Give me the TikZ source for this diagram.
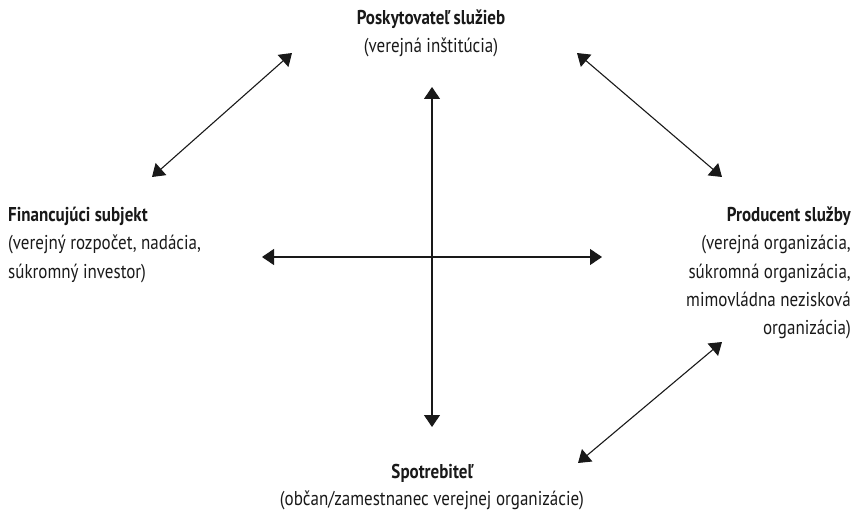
\documentclass[tikz,border=0pt]{standalone}
\usepackage{fontspec}
\setmainfont{PT Sans}[FakeStretch=0.85]
\usetikzlibrary{arrows.meta}
\tikzset{
  txt/.style={inner sep=0pt, font=\fontsize{20}{24}\selectfont, text=black!90},
  hd/.style={txt, font=\fontsize{20}{24}\selectfont\bfseries},
  link/.style={line width=1.1pt, draw=black!90,
    {Triangle[length=12pt,width=16pt]}-{Triangle[length=12pt,width=16pt]}},
}
\begin{document}
\begin{tikzpicture}[x=1pt,y=-1pt]
\useasboundingbox (0,0) rectangle (862,513);
% text blocks
\node[hd, anchor=base] (p1) at (431,25) {Poskytovateľ služieb};
\node[txt, anchor=base] (p2) at (431,53) {(verejná inštitúcia)};
\node[hd, anchor=base west] (f1) at (8,222) {Financujúci subjekt};
\node[txt, anchor=base west] (f2) at (8,250) {(verejný rozpočet, nadácia,};
\node[txt, anchor=base west] (f3) at (8,278) {súkromný investor)};
\node[hd, anchor=base east] (r1) at (851,222) {Producent služby};
\node[txt, anchor=base east] (r2) at (851,250) {(verejná organizácia,};
\node[txt, anchor=base east] (r3) at (851,278) {súkromná organizácia,};
\node[txt, anchor=base east] (r4) at (851,306) {mimovládna nezisková};
\node[txt, anchor=base east] (r5) at (851,334) {organizácia)};
\node[hd, anchor=base] (s1) at (432,478) {Spotrebiteľ};
\node[txt, anchor=base] (s2) at (432,505) {(občan/zamestnanec verejnej organizácie)};
% arrow ends
\coordinate (tla) at (152,177); \coordinate (tlb) at (292,53);
\coordinate (tra) at (577,53);  \coordinate (trb) at (722,177);
\coordinate (bra) at (722,342); \coordinate (brb) at (578,463);
\coordinate (vt) at (432,87);   \coordinate (vb) at (432,427);
\coordinate (hl) at (262,257);  \coordinate (hr) at (602,257);
\draw[link] (tla) -- (tlb);
\draw[link] (tra) -- (trb);
\draw[link] (bra) -- (brb);
\draw[link] (vt) -- (vb);
\draw[link] (hl) -- (hr);
\end{tikzpicture}
\end{document}
